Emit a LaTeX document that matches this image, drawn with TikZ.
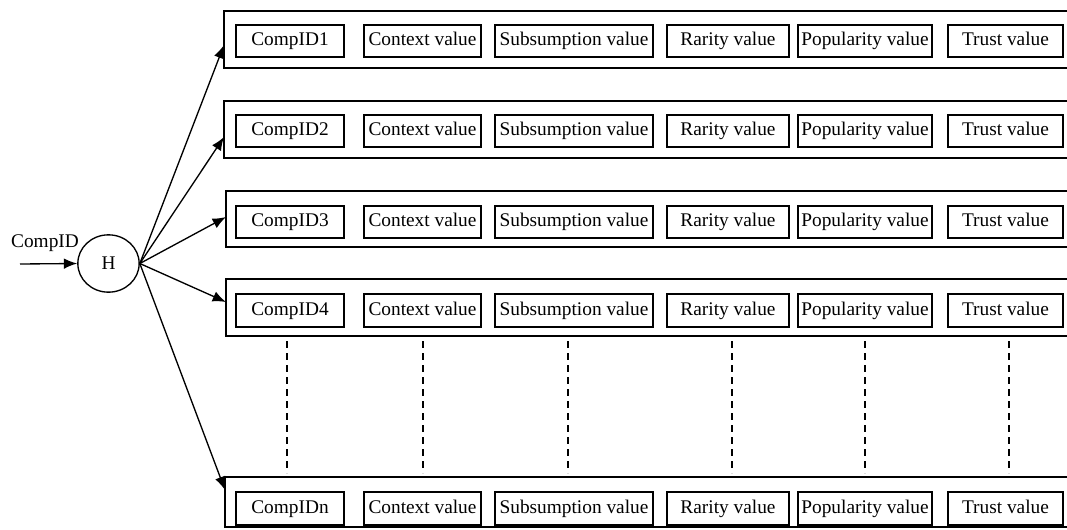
\documentclass[tikz,border=0pt]{standalone}
\usepackage{fontspec}
\setmainfont{Liberation Serif}
\usetikzlibrary{arrows.meta,fit,shapes.geometric}
\begin{document}
\begin{tikzpicture}[x=0.75pt,y=-0.75pt,
  outerbox/.style={draw, line width=1.3pt, inner sep=0pt},
  ibox/.style={draw, line width=1.1pt, inner sep=0pt, text height=10pt, text depth=3pt,
               font=\fontsize{14.5}{17}\selectfont},
  lbl/.style={inner sep=0pt, font=\fontsize{14.5}{17}\selectfont},
  conn/.style={line width=1pt, -{Latex[length=10pt,width=8pt]}},
  vdash/.style={line width=0.9pt, dash pattern=on 5.5pt off 3.5pt}]
\useasboundingbox (0,0) rectangle (1067,529);
\clip (0,0) rectangle (1067,529);

% hash node and input
\node[draw, ellipse, line width=1pt, minimum width=46pt, minimum height=43pt, inner sep=0pt,
      font=\fontsize{14.5}{17}\selectfont] (h) at (108.5,263.5) {H};
\node[lbl] (in) at (45,243) {CompID};
\coordinate (src) at (20,264);
\draw[conn] (src) -- (h.west);

% rows
\foreach \r/\lab/\ot/\ob/\ol/\it/\ib/\ay in {
   1/CompID1/11/68/224/25/57/45,
   2/CompID2/101/158/224/115/147/137,
   3/CompID3/191/247/226/206/238/217,
   4/CompID4/279/336/226/294/327/302,
   n/CompIDn/477/527/225/492/525/490}{
  \node[outerbox, fit={(\ol,\ot) (1069,\ob)}] (r\r) {};
  \foreach \c/\xa/\xb/\t in {
     a/236/344/\lab,
     b/364/481/Context value,
     c/495/653/Subsumption value,
     d/667/789/Rarity value,
     e/798/932/Popularity value,
     f/948/1063/Trust value}{
    \pgfmathsetmacro{\cx}{(\xa+\xb)/2}
    \pgfmathsetmacro{\cy}{(\it+\ib)/2}
    \pgfmathsetmacro{\w}{(\xb-\xa)*0.75}
    \pgfmathsetmacro{\hh}{(\ib-\it)*0.75}
    \node[ibox, minimum width=\w pt, minimum height=\hh pt] (\c\r) at (\cx,\cy) {\t};
  }
  \coordinate (e\r) at (\ol,\ay);
  \draw[conn] (h.east) -- (e\r);
}

% dashed continuation lines
\foreach \k/\x in {1/287,2/423,3/568,4/732,5/865,6/1009}{
  \coordinate (dt\k) at (\x,341);
  \coordinate (db\k) at (\x,473);
  \draw[vdash] (dt\k) -- (db\k);
}
\end{tikzpicture}
\end{document}
